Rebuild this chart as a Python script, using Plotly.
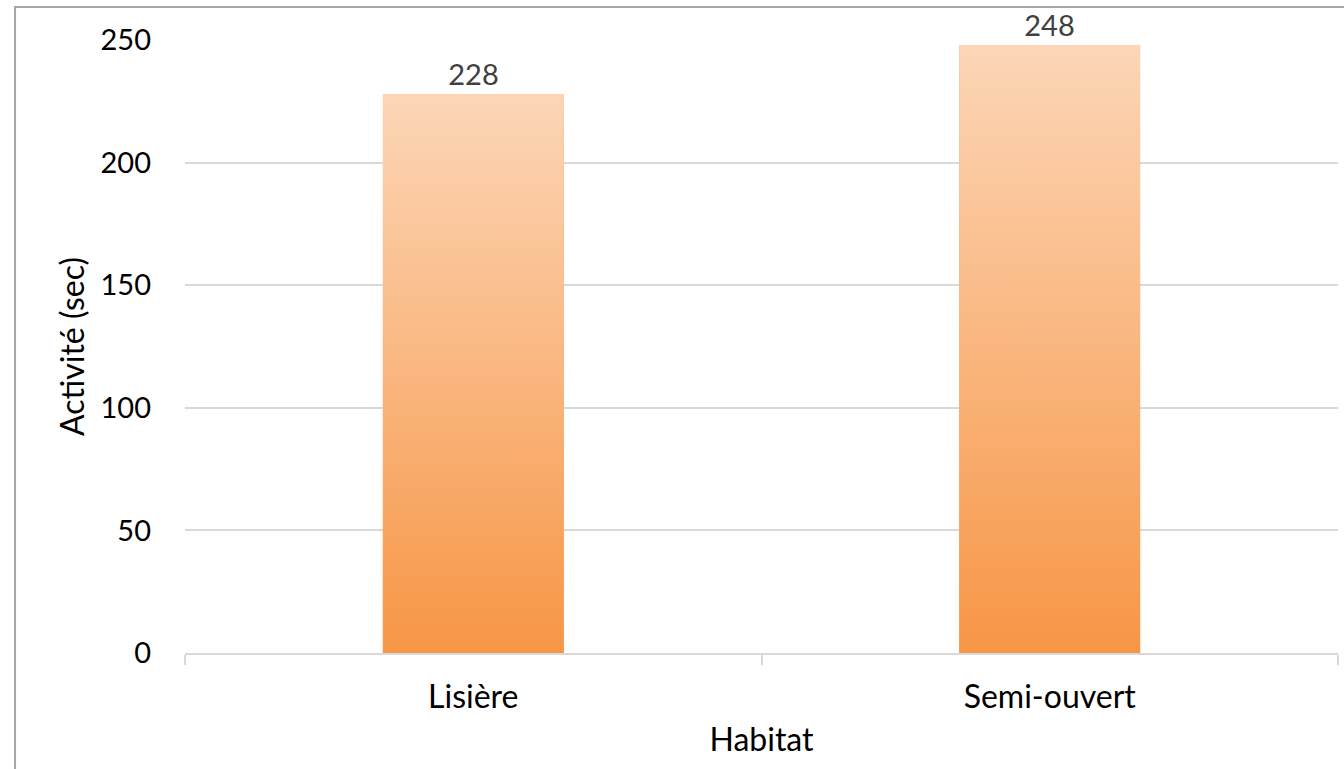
import plotly.graph_objects as go

categories = ["Lisière", "Semi-ouvert"]
values = [228, 248]
y_ticks = [0, 50, 100, 150, 200, 250]

bar_width = 0.314
top_color = "#FCD6B7"
bottom_color = "#F79646"
font_family = "Lato, 'Open Sans', sans-serif"

positions = list(range(len(categories)))

fig = go.Figure()

# Bars (data) with labels
fig.add_trace(go.Bar(
    x=positions, y=values, width=bar_width,
    marker=dict(color="#F9B27E", line=dict(width=0)),
    text=[str(v) for v in values], textposition="outside",
    textfont=dict(size=29, color="#404040", family=font_family),
    cliponaxis=False, showlegend=False, hoverinfo="x+y",
))

# Gradient fill overlay on each bar, built from the same data
for p, v in zip(positions, values):
    x0, x1 = p - bar_width / 2, p + bar_width / 2
    fig.add_trace(go.Scatter(
        x=[x0, x1, x1, x0, x0], y=[0, 0, v, v, 0],
        mode="lines", fill="toself", line=dict(width=0),
        fillgradient=dict(type="vertical",
                          colorscale=[[0, bottom_color], [1, top_color]]),
        showlegend=False, hoverinfo="skip",
    ))

fig.update_layout(
    width=1344, height=769,
    margin=dict(l=185, r=6, t=40, b=116, autoexpand=False),
    paper_bgcolor="white", plot_bgcolor="white",
    font=dict(family=font_family, color="#000000"),
    bargap=0,
    shapes=[dict(type="rect", xref="paper", yref="paper",
                 x0=-0.1474, x1=1.02, y0=-0.3, y1=1.0538,
                 line=dict(color="#A6A6A6", width=2), fillcolor="rgba(0,0,0,0)",
                 layer="above")],
)

fig.update_xaxes(
    automargin=False,
    range=[-0.5, len(categories) - 0.5],
    tickmode="array", tickvals=positions, ticktext=categories,
    ticks="", showgrid=False, zeroline=False,
    showline=True, linecolor="#D9D9D9", linewidth=1.5,
    tickfont=dict(size=32, color="#000000"),
    ticklabelstandoff=15,
    minor=dict(tickmode="array",
               tickvals=[p - 0.5 for p in positions] + [positions[-1] + 0.5],
               ticks="outside", ticklen=10, tickcolor="#D9D9D9", tickwidth=1.5,
               showgrid=False),
    title=dict(text="Habitat", font=dict(size=32, color="#000000"), standoff=14),
)

fig.update_yaxes(
    automargin=False,
    range=[0, 250], tickmode="array", tickvals=y_ticks,
    showgrid=True, gridcolor="#D9D9D9", gridwidth=1.5,
    zeroline=False, showline=False, ticks="",
    tickfont=dict(size=29, color="#000000"),
    ticklabelstandoff=33,
    title=dict(text="Activité (sec)", font=dict(size=32, color="#000000"), standoff=6),
)

fig.write_html("out.html",
               config={"displayModeBar": False},
               post_script="document.body.style.margin='0px';document.body.style.overflow='hidden';")
